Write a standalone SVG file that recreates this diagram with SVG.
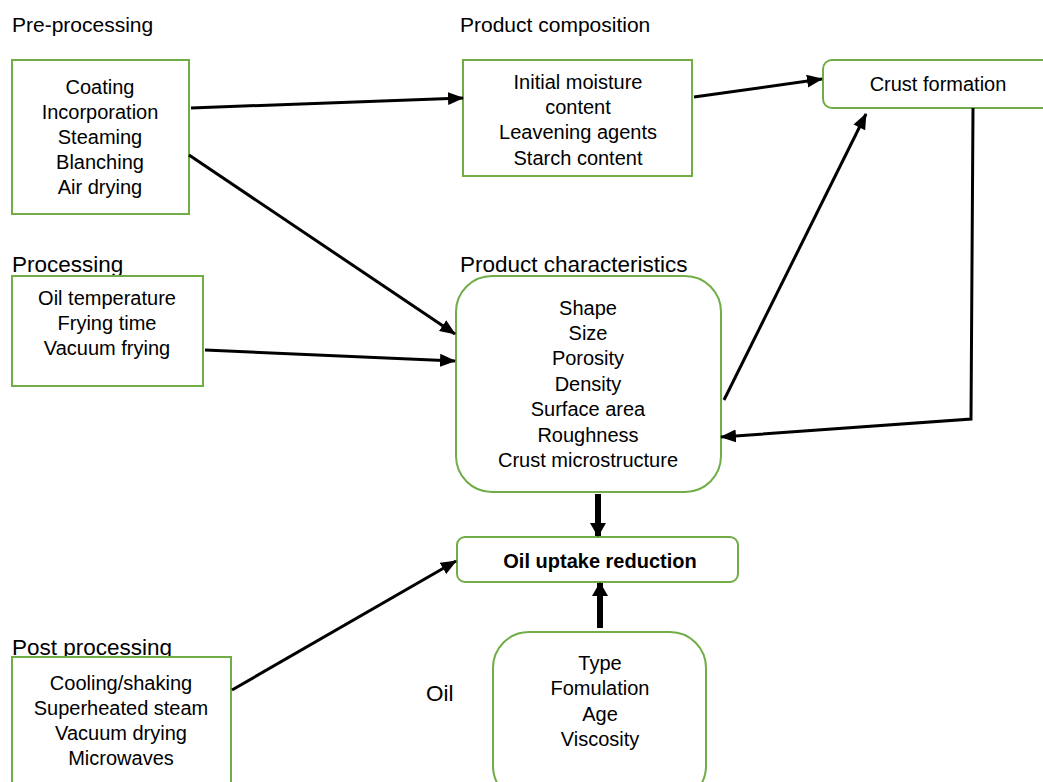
<svg xmlns="http://www.w3.org/2000/svg" width="1043" height="782" viewBox="0 0 1043 782">
<style>
text{font-family:"Liberation Sans",Arial,sans-serif;fill:#000}
.t{font-size:20px;text-anchor:middle}
.h{font-size:21px}
.h2{font-size:22.5px}
.box{fill:#fff;stroke:#70AD47;stroke-width:2}
.c{fill:none;stroke:#000;stroke-width:3}
.k{fill:none;stroke:#000;stroke-width:6}
</style>
<defs>
<marker id="a" markerUnits="userSpaceOnUse" markerWidth="16" markerHeight="14" refX="15" refY="7" orient="auto">
<path d="M0,0.5 L16,7 L0,13.5 Z" fill="#000"/>
</marker>
<marker id="b" markerUnits="userSpaceOnUse" markerWidth="16" markerHeight="18" refX="13" refY="9" orient="auto">
<path d="M0,1 L14,9 L0,17 Z" fill="#000"/>
</marker>
</defs>
<rect width="1043" height="782" fill="#fff"/>
<g id="labels">
<text class="h" x="12" y="32">Pre-processing</text>
<text class="h" x="460" y="32">Product composition</text>
<text class="h2" x="12" y="272">Processing</text>
<text class="h2" x="460" y="272">Product characteristics</text>
<text class="h2" x="12" y="655">Post processing</text>
<text class="h2" x="426" y="701">Oil</text>
</g>
<g id="preprocessing">
<rect class="box" x="12" y="60" width="177" height="154"/>
<text class="t" x="100" y="94">Coating</text>
<text class="t" x="100" y="119">Incorporation</text>
<text class="t" x="100" y="144">Steaming</text>
<text class="t" x="100" y="169">Blanching</text>
<text class="t" x="100" y="194">Air drying</text>
</g>
<g id="composition">
<rect class="box" x="463" y="60" width="229" height="116"/>
<text class="t" x="578" y="89">Initial moisture</text>
<text class="t" x="578" y="114">content</text>
<text class="t" x="578" y="139">Leavening agents</text>
<text class="t" x="578" y="165">Starch content</text>
</g>
<g id="crust">
<rect class="box" x="823" y="60" width="230" height="48" rx="9"/>
<text class="t" x="938" y="91">Crust formation</text>
</g>
<g id="processing">
<rect class="box" x="12" y="276" width="191" height="110"/>
<text class="t" x="107" y="305">Oil temperature</text>
<text class="t" x="107" y="330">Frying time</text>
<text class="t" x="107" y="355">Vacuum frying</text>
</g>
<g id="characteristics">
<rect class="box" x="456" y="276" width="265" height="216" rx="36"/>
<text class="t" x="588" y="315">Shape</text>
<text class="t" x="588" y="340">Size</text>
<text class="t" x="588" y="365">Porosity</text>
<text class="t" x="588" y="391">Density</text>
<text class="t" x="588" y="416">Surface area</text>
<text class="t" x="588" y="442">Roughness</text>
<text class="t" x="588" y="467">Crust microstructure</text>
</g>
<g id="reduction">
<rect class="box" x="457" y="537" width="281" height="45" rx="8"/>
<text class="t" x="600" y="568" font-weight="bold">Oil uptake reduction</text>
</g>
<g id="oil">
<rect class="box" x="493" y="632" width="213" height="170" rx="36"/>
<text class="t" x="600" y="670">Type</text>
<text class="t" x="600" y="695">Fomulation</text>
<text class="t" x="600" y="721">Age</text>
<text class="t" x="600" y="746">Viscosity</text>
</g>
<g id="postprocessing">
<rect class="box" x="12" y="657" width="219" height="140"/>
<text class="t" x="121" y="690">Cooling/shaking</text>
<text class="t" x="121" y="715">Superheated steam</text>
<text class="t" x="121" y="740">Vacuum drying</text>
<text class="t" x="121" y="765">Microwaves</text>
</g>
<g id="connectors">
<line class="c" x1="191" y1="108" x2="463" y2="98" marker-end="url(#a)"/>
<line class="c" x1="189" y1="155" x2="455" y2="334" marker-end="url(#a)"/>
<line class="c" x1="205" y1="350" x2="455" y2="361" marker-end="url(#a)"/>
<line class="c" x1="694" y1="97" x2="822" y2="79" marker-end="url(#a)"/>
<line class="c" x1="724" y1="400" x2="866" y2="114" marker-end="url(#a)"/>
<polyline class="c" points="973,108 971,419 721,437" marker-end="url(#a)"/>
<line class="k" x1="598" y1="494" x2="598" y2="536" marker-end="url(#b)"/>
<line class="k" x1="600" y1="628" x2="600" y2="583" marker-end="url(#b)"/>
<line class="c" x1="232" y1="690" x2="456" y2="561" marker-end="url(#a)"/>
</g>
</svg>
